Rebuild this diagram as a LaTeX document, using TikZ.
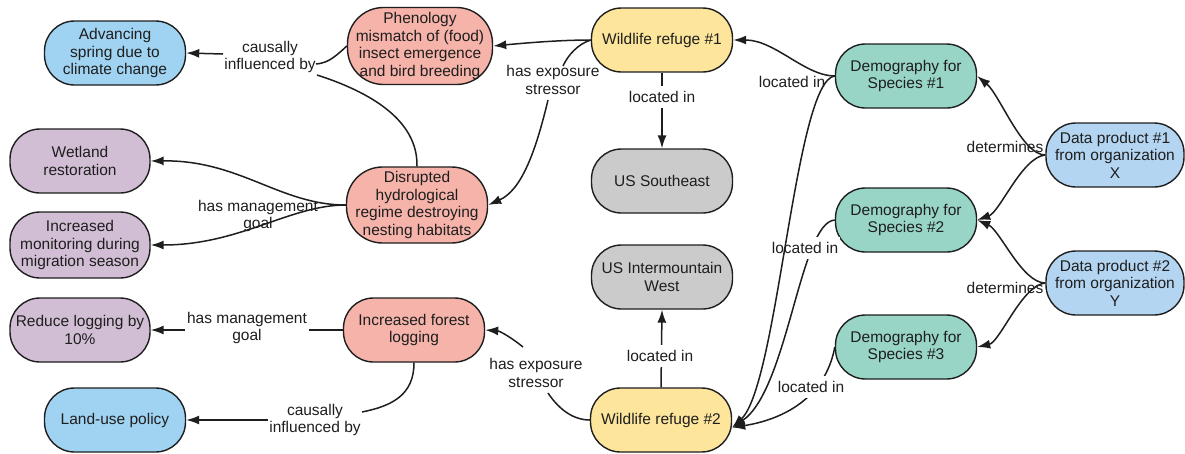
\documentclass[tikz,border=0pt]{standalone}
\usepackage{fontspec}
\setmainfont{Liberation Sans}
\usetikzlibrary{arrows.meta}
\definecolor{cblue}{HTML}{A0D3F1}
\definecolor{cblueb}{HTML}{B4D5F1}
\definecolor{cpink}{HTML}{F5B3AA}
\definecolor{cyellow}{HTML}{FDE69C}
\definecolor{cgray}{HTML}{CBCBCB}
\definecolor{cteal}{HTML}{98D5C7}
\definecolor{cpurple}{HTML}{D2BED4}
\definecolor{ink}{HTML}{1E1E1E}
\begin{document}
\begin{tikzpicture}[x=1pt,y=-1pt,
  box/.style={draw=ink, line width=1.4pt, rounded corners=30pt, minimum width=141pt, minimum height=64pt, align=center, inner sep=0pt, font=\fontsize{15.5}{17.5}\selectfont, text=ink},
  lab/.style={align=center, inner sep=1.5pt, font=\fontsize{15.5}{17.5}\selectfont, text=ink},
  wlab/.style={lab, fill=white, inner xsep=2pt, inner ysep=5pt},
  conn/.style={line width=1.5pt, draw=ink},
  arr/.style={conn, -{Latex[length=13pt,width=9pt]}},
]
\useasboundingbox (0,0) rectangle (1185,453);

% nodes
\node[box, fill=cblue] (adv) at (115,53) {Advancing\\spring due to\\climate change};
\node[box, fill=cpink, minimum width=145pt, minimum height=77pt, rounded corners=36pt] (phen) at (420,46) {Phenology\\mismatch of (food)\\insect emergence\\and bird breeding};
\node[box, fill=cyellow] (wr1) at (662,40) {Wildlife refuge \#1};
\node[box, fill=cgray] (use) at (662,181) {US Southeast};
\node[box, fill=cteal] (d1) at (906,76) {Demography for\\Species \#1};
\node[box, fill=cblueb, minimum width=138pt] (dp1) at (1115,155) {Data product \#1\\from organization\\X};
\node[box, fill=cteal] (d2) at (906,220) {Demography for\\Species \#2};
\node[box, fill=cblueb, minimum width=138pt] (dp2) at (1115,283) {Data product \#2\\from organization\\Y};
\node[box, fill=cteal] (d3) at (906,347) {Demography for\\Species \#3};
\node[box, fill=cpurple, minimum width=140pt] (wet) at (80,161) {Wetland\\restoration};
\node[box, fill=cpurple, minimum width=140pt, minimum height=66pt] (mon) at (80,245) {Increased\\monitoring during\\migration season};
\node[box, fill=cpink, minimum height=76pt, rounded corners=36pt] (dis) at (417,205) {Disrupted\\hydrological\\regime destroying\\nesting habitats};
\node[box, fill=cpurple, minimum width=140pt] (red) at (80,330) {Reduce logging by\\10\%};
\node[box, fill=cblue] (land) at (115,420) {Land-use policy};
\node[box, fill=cpink] (forest) at (414,330) {Increased forest\\logging};
\node[box, fill=cgray] (usim) at (662,277) {US Intermountain\\West};
\node[box, fill=cyellow] (wr2) at (661,420) {Wildlife refuge \#2};

% causally influenced by (top)
\node[lab] (c1) at (270,57) {causally\\influenced by};
\coordinate (c1a) at (316,64);
\coordinate (c1b) at (317,75);
\coordinate (c1c) at (223,54);
\draw[conn] (phen.west) .. controls (332,60) and (326,63) .. (c1a);
\draw[conn] (dis.north) .. controls (418,120) and (370,92) .. (c1b);
\draw[arr] (c1c) -- (adv.east);

% wr1 -> phen
\draw[arr] (wr1.west) .. controls (560,40) and (525,43) .. (phen.east);

% wr1 -> dis
\node[lab] (c3) at (553,80) {has exposure\\stressor};
\coordinate (c3a) at (563,66);
\coordinate (c3b) at (548,100);
\draw[conn] (wr1.west) .. controls (578,44) and (568,55) .. (c3a);
\draw[arr] (c3b) .. controls (536,150) and (522,190) .. (dis.east);

% wr1 -> US Southeast
\draw[arr] (wr1.south) -- (use.north);
\node[wlab] (l4) at (662,97) {located in};

% d1 -> wr1
\node[lab] (l5) at (792,82) {located in};
\draw[arr] (d1.west) .. controls (805,76) and (775,40) .. (wr1.east);

% d3 -> wr2
\draw[arr] (d3.west) .. controls (825,400) and (780,420) .. (wr2.-6);
\node[wlab] (l8) at (811,387) {located in};
% d2 -> wr2
\draw[arr] (d2.west) .. controls (800,222) and (788,390) .. (wr2.-6);
\node[wlab] (l7) at (805,248) {located in};
% d1 -> wr2
\draw[arr] (d1.west) .. controls (795,80) and (778,385) .. (wr2.-6);

% data products
\node[lab] (l9) at (1005,147) {determines};
\node[lab] (l10) at (1005,288) {determines};
\draw[arr] (dp1.west) .. controls (1022,155) and (1000,95) .. (d1.east);
\draw[arr] (dp1.west) .. controls (1022,157) and (1000,212) .. (d2.east);
\draw[arr] (dp2.west) .. controls (1022,283) and (1000,230) .. (d2.east);
\draw[arr] (dp2.west) .. controls (1022,285) and (1000,342) .. (d3.east);

% dis -> wet / mon
\node[lab] (l11) at (258,216) {has management\\goal};
\draw[arr] (dis.west) .. controls (280,205) and (240,160) .. (wet.east);
\draw[arr] (dis.west) .. controls (290,205) and (240,245) .. (mon.east);

% forest -> red
\draw[arr] (forest.west) -- (red.east);
\node[wlab] (l12) at (247,328) {has management\\goal};

% forest -> land
\node[lab] (l13) at (315,420) {causally\\influenced by};
\coordinate (c13a) at (362,412);
\draw[conn] (forest.south) .. controls (414,395) and (392,406) .. (c13a);
\draw[arr] (l13.west) -- (land.east);

% wr2 -> forest
\node[lab] (l14) at (536,373) {has exposure\\stressor};
\coordinate (c14a) at (548,393);
\coordinate (c14b) at (523,347);
\draw[conn] (wr2.west) .. controls (570,420) and (556,405) .. (c14a);
\draw[arr] (c14b) .. controls (512,338) and (500,331) .. (forest.east);

% wr2 -> usim
\draw[arr] (wr2.north) -- (usim.south);
\node[wlab] (l15) at (660,356) {located in};
\end{tikzpicture}
\end{document}
